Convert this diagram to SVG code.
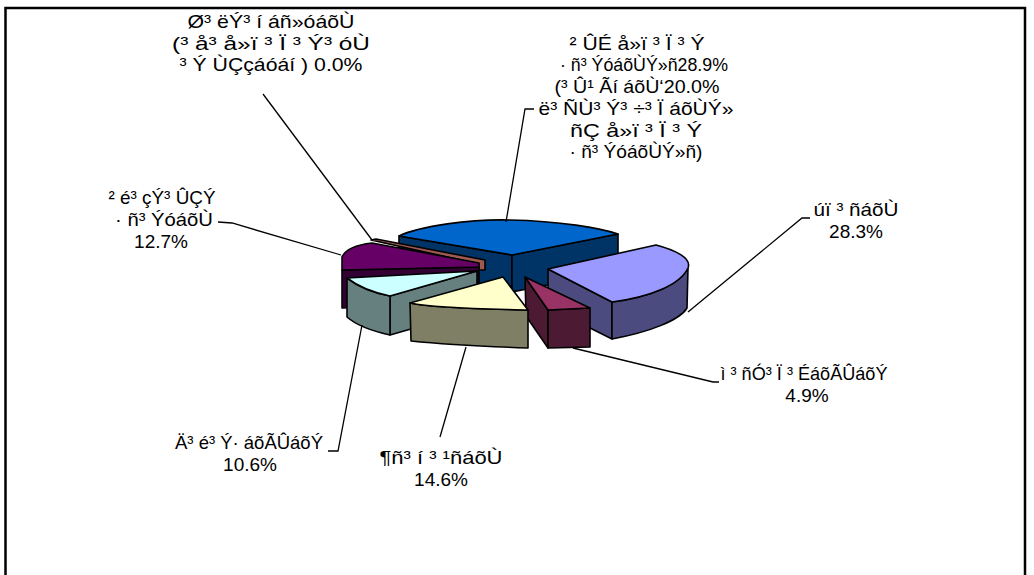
<svg xmlns="http://www.w3.org/2000/svg" width="1034" height="575" viewBox="0 0 1034 575">
<style>
.lbl{font-family:"Liberation Sans",Arial,sans-serif;font-size:19px;fill:#000;text-anchor:middle}
.ln{fill:none;stroke:#000;stroke-width:1.3}
.pie{stroke:#000;stroke-width:1.6;stroke-linejoin:round}
</style>
<rect x="0" y="0" width="1034" height="575" fill="#fff"/>
<rect x="5.5" y="8" width="1019.5" height="600" fill="#fff" stroke="#000" stroke-width="2.5"/>

<g id="slice-blue">
<path class="pie" fill="#003366" d="M399,236 L512,255 L512,292 L399,273 Z"/>
<path class="pie" fill="#003366" d="M512,255 L618,234 L618,271 L512,292 Z"/>
<path class="pie" fill="#0066CC" d="M512,255 L399,236 C420,226 470,219 510,220 C560,221 600,228 618,234 Z"/>
</g>
<g id="slice-brown">
<path class="pie" fill="#9C5A50" stroke-width="1.2" d="M371,240 L376,239 L485,260 L485,270 L479,270 L479,264 Z"/>
</g>
<g id="slice-purple">
<path class="pie" fill="#330033" d="M342,270 L479,267 L479,304 L342,308 Z"/>
<path class="pie" fill="#660066" d="M342,257 C345,250 355,245 372,243 L479,263 L479,267 L342,270 Z"/>
</g>
<g id="slice-lightpurple">
<path class="pie" fill="#4B4B7F" d="M548,269 L612,302 L612,339 L548,307 Z"/>
<path class="pie" fill="#4B4B7F" d="M612,302 C650,297 680,285 688,268 L687,308 C680,320 650,332 612,339 Z"/>
<path class="pie" fill="#9999FF" d="M548,269 L656,245 C675,250 692,258 688,268 C680,285 650,297 612,302 Z"/>
</g>
<g id="slice-cyan">
<path class="pie" fill="#668080" d="M390,296 L477,271 L477,310 L390,335 Z"/>
<path class="pie" fill="#668080" d="M347,278 C360,288 375,293 390,296 L390,335 C372,331 356,325 347,317 Z"/>
<path class="pie" fill="#CCFFFF" d="M347,278 L477,271 L390,296 C375,293 360,288 347,278 Z"/>
</g>
<g id="slice-maroon">
<path class="pie" fill="#4D1A33" d="M525,277 L548,310 L548,348 L526,316 Z"/>
<path class="pie" fill="#4D1A33" d="M548,310 L590,308 L590,347 L548,348 Z"/>
<path class="pie" fill="#993366" d="M525,277 L590,308 L548,310 Z"/>
</g>
<g id="slice-yellow">
<path class="pie" fill="#7F7F66" d="M410,303 C440,309 500,309 528,310 L528,348 C500,347 440,344 411,341 Z"/>
<path class="pie" fill="#FFFFCC" d="M503,277 L528,310 C500,309 440,309 410,303 Z"/>
</g>

<g id="connectors">
<polyline class="ln" points="263,94 372,240"/>
<polyline class="ln" points="506,222 525,109 534,109"/>
<polyline class="ln" points="688,312 802,218 810,218"/>
<polyline class="ln" points="573,348 713,382 719,382"/>
<polyline class="ln" points="466,347 440,437"/>
<polyline class="ln" points="362,325 338,451 328,451"/>
<polyline class="ln" points="218,222 232,223 341,255"/>
</g>

<g id="label-privatization">
<text class="lbl" x="271" y="28" textLength="167" lengthAdjust="spacingAndGlyphs">Ø³ ëÝ³ í áñ»óáõÙ</text>
<text class="lbl" x="271" y="49.7" textLength="198" lengthAdjust="spacingAndGlyphs">(³ å³ å»ï ³ Ï ³ Ý³ óÙ</text>
<text class="lbl" x="271" y="71.4" textLength="183" lengthAdjust="spacingAndGlyphs">³ Ý ÙÇçáóáí ) 0.0%</text>
</g>
<g id="label-other">
<text class="lbl" x="637" y="49.7" textLength="135" lengthAdjust="spacingAndGlyphs">² ÛÉ å»ï ³ Ï ³ Ý</text>
<text class="lbl" x="644" y="71.4" textLength="168" lengthAdjust="spacingAndGlyphs">· ñ³ ÝóáõÙÝ»ñ28.9%</text>
<text class="lbl" x="637" y="93.1" textLength="165" lengthAdjust="spacingAndGlyphs">(³ Û¹ Ãí áõÙ‘20.0%</text>
<text class="lbl" x="636" y="114.8" textLength="195" lengthAdjust="spacingAndGlyphs">ë³ ÑÙ³ Ý³ ÷³ Ï áõÙÝ»</text>
<text class="lbl" x="636" y="136.5" textLength="132" lengthAdjust="spacingAndGlyphs">ñÇ å»ï ³ Ï ³ Ý</text>
<text class="lbl" x="636" y="158.2" textLength="133" lengthAdjust="spacingAndGlyphs">· ñ³ ÝóáõÙÝ»ñ)</text>
</g>
<g id="label-alienation">
<text class="lbl" x="856" y="216" textLength="85" lengthAdjust="spacingAndGlyphs">úï ³ ñáõÙ</text>
<text class="lbl" x="856" y="238">28.3%</text>
</g>
<g id="label-lease">
<text class="lbl" x="804" y="380" textLength="167" lengthAdjust="spacingAndGlyphs">ì ³ ñÓ³ Ï ³ ÉáõÃÛáõÝ</text>
<text class="lbl" x="807" y="402">4.9%</text>
</g>
<g id="label-mortgage">
<text class="lbl" x="441" y="464" textLength="123" lengthAdjust="spacingAndGlyphs">¶ñ³ í ³ ¹ñáõÙ</text>
<text class="lbl" x="441" y="486">14.6%</text>
</g>
<g id="label-inheritance">
<text class="lbl" x="249" y="449" textLength="148" lengthAdjust="spacingAndGlyphs">Ä³ é³ Ý· áõÃÛáõÝ</text>
<text class="lbl" x="250" y="471">10.6%</text>
</g>
<g id="label-primary">
<text class="lbl" x="162" y="204" textLength="107" lengthAdjust="spacingAndGlyphs">² é³ çÝ³ ÛÇÝ</text>
<text class="lbl" x="164" y="226" textLength="98" lengthAdjust="spacingAndGlyphs">· ñ³ ÝóáõÙ</text>
<text class="lbl" x="161" y="248">12.7%</text>
</g>
</svg>
